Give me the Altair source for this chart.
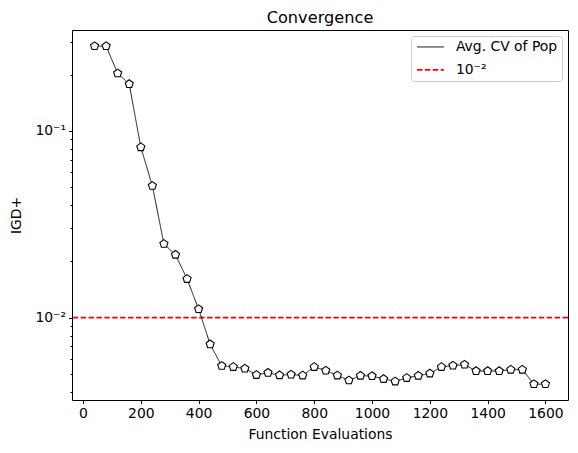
import altair as alt
import pandas as pd

evals = [40, 80, 120, 160, 200, 240, 280, 320, 360, 400,
         440, 480, 520, 560, 600, 640, 680, 720, 760, 800,
         840, 880, 920, 960, 1000, 1040, 1080, 1120, 1160, 1200,
         1240, 1280, 1320, 1360, 1400, 1440, 1480, 1520, 1560, 1600]
igd = [0.284, 0.284, 0.203, 0.178, 0.0817, 0.0507, 0.0248, 0.0217, 0.0161, 0.0111,
       0.00719, 0.00551, 0.00544, 0.00533, 0.00493, 0.00506, 0.00491, 0.00495, 0.0049, 0.00544,
       0.0052, 0.0049, 0.00461, 0.00488, 0.00486, 0.00469, 0.00455, 0.00475, 0.00488, 0.00502,
       0.00544, 0.00553, 0.0056, 0.00517, 0.00517, 0.00517, 0.00526, 0.00526, 0.0044, 0.0044]
series_names = ["Avg. CV of Pop", "10⁻²"]
threshold = [0.01]
x_ticks = [0, 200, 400, 600, 800, 1000, 1200, 1400, 1600]
y_ticks = [0.004, 0.005, 0.006, 0.007, 0.008, 0.009, 0.01,
           0.02, 0.03, 0.04, 0.05, 0.06, 0.07, 0.08, 0.09, 0.1, 0.2, 0.3]

df = pd.DataFrame({"x": evals, "y": igd, "series": series_names[0]})
df_rule = pd.DataFrame({"y": threshold, "series": [series_names[1]]})

FONT = "DejaVu Sans"
FS = 13.9
pentagon = "M0,-1L0.951,-0.309L0.588,0.809L-0.588,0.809L-0.951,-0.309Z"
legend_line = "M-2.7,0L2.7,0"

xs = alt.Scale(domain=[-38, 1678], nice=False, zero=False)
ys = alt.Scale(type="log", domain=[0.003618, 0.3464], nice=False)

legend = alt.Legend(title=None, orient="top-right", offset=6, padding=4,
                    strokeColor="#cccccc", cornerRadius=3, fillColor="white",
                    symbolType=legend_line, symbolSize=100, symbolOffset=8.5,
                    labelFont=FONT, labelFontSize=FS, labelColor="black",
                    rowPadding=8, labelOffset=18.5)
color = alt.Color("series:N", scale=alt.Scale(domain=series_names, range=["black", "red"]), legend=legend)
dash = alt.StrokeDash("series:N", scale=alt.Scale(domain=series_names, range=[[1, 0], [5.5, 2.4]]), legend=legend)
swidth = alt.StrokeWidth("series:N", scale=alt.Scale(domain=series_names, range=[0.9, 1.7]), legend=legend)

xaxis = alt.Axis(values=x_ticks, title="Function Evaluations", grid=False, format="d",
                 labelFont=FONT, labelFontSize=FS, titleFont=FONT, titleFontSize=FS,
                 titleFontWeight="normal", domainColor="black", tickColor="black",
                 labelColor="black", titleColor="black", tickSize=3.5, labelPadding=3,
                 titlePadding=7, domain=False)
yaxis = alt.Axis(values=y_ticks, title="IGD+", grid=False,
                 labelExpr="datum.value == 0.1 ? '10⁻¹' : (datum.value == 0.01 ? '10⁻²' : '')",
                 labelFont=FONT, labelFontSize=FS, titleFont=FONT, titleFontSize=FS,
                 titleFontWeight="normal", domainColor="black", tickColor="black",
                 labelColor="black", titleColor="black",
                 tickSize={"condition": {"test": "datum.value == 0.1 || datum.value == 0.01", "value": 3.5}, "value": 2},
                 labelPadding=3, titlePadding=11, domain=False)

line = alt.Chart(df).mark_line().encode(
    x=alt.X("x:Q", scale=xs, axis=xaxis),
    y=alt.Y("y:Q", scale=ys, axis=yaxis),
    color=color,
    strokeDash=dash,
    strokeWidth=swidth,
)
points = alt.Chart(df).mark_point(shape=pentagon, size=72, filled=True, fill="white",
                                  stroke="black", strokeWidth=1.1, opacity=1).encode(
    x=alt.X("x:Q", scale=xs),
    y=alt.Y("y:Q", scale=ys),
)
rule = alt.Chart(df_rule).mark_rule().encode(
    y=alt.Y("y:Q", scale=ys),
    color=color,
    strokeDash=dash,
    strokeWidth=swidth,
)

chart = alt.layer(rule, line, points).properties(
    width=496, height=370,
    title=alt.Title("Convergence", font=FONT, fontSize=16.2, fontWeight="normal", color="black", offset=4),
    autosize=alt.AutoSizeParams(type="none"),
    padding={"left": 64, "top": 22, "right": 2, "bottom": 45},
).configure(background="white").configure_view(stroke="black", strokeWidth=1)

chart.save("out.html", embed_options={"renderer": "svg", "actions": False})
